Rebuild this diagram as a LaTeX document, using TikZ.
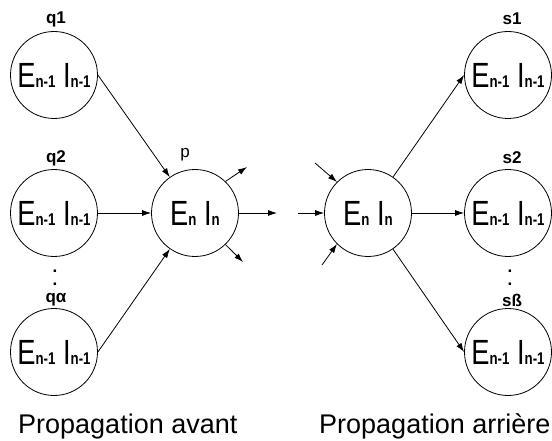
\documentclass[tikz,border=0pt]{standalone}
\usepackage{fontspec}
\usepackage{graphicx}
\setmainfont{Liberation Sans}
\usetikzlibrary{arrows.meta}
\newcommand{\EIsub}[1]{{\fontsize{17}{17}\selectfont\bfseries #1}}
\newcommand{\EItext}[1]{\scalebox{0.78}[1]{\fontsize{35}{35}\selectfont E\EIsub{#1} I\EIsub{#1}}}
\begin{document}
\begin{tikzpicture}[x=1pt,y=-1pt,
  neuron/.style={draw,circle,line width=0.8pt,minimum size=87pt,inner sep=0pt},
  lbl/.style={font=\fontsize{17}{17}\selectfont\bfseries,inner sep=0pt},
  vdots/.style={font=\fontsize{17}{13}\selectfont\bfseries,inner sep=0pt,align=center},
  conn/.style={line width=0.8pt,-{Latex[length=9pt,width=6pt]}},
  title/.style={font=\fontsize{27}{27}\selectfont,anchor=base west,inner sep=0pt}]
\useasboundingbox (0,0) rectangle (552,441);
% left side
\node[neuron] (q1) at (54,75) {\EItext{n-1}};
\node[neuron] (q2) at (54,213) {\EItext{n-1}};
\node[neuron] (qa) at (54,352) {\EItext{n-1}};
\node[lbl] (lq1) at (56,19) {q1};
\node[lbl] (lq2) at (56,158) {q2};
\node[lbl] (lqa) at (56,300) {qα};
\node[vdots] (dq) at (55,278) {.\\.};
\node[neuron] (p) at (195,213) {\EItext{n}};
\node[font=\fontsize{17}{17}\selectfont,inner sep=1pt] (lp) at (185,155) {p};
\draw[conn] (q1.east) -- (p);
\draw[conn] (q2.east) -- (p.west);
\draw[conn] (qa.east) -- (p);
\coordinate (po1) at (247,167);
\coordinate (po2) at (277,213);
\coordinate (po3) at (243,262);
\draw[conn] (p.46) -- (po1);
\draw[conn] (p.east) -- (po2);
\draw[conn] (p.-46) -- (po3);
% right side
\node[neuron] (r) at (368,213) {\EItext{n}};
\node[neuron] (s1) at (508,75) {\EItext{n-1}};
\node[neuron] (s2) at (508,213) {\EItext{n-1}};
\node[neuron] (sb) at (508,352) {\EItext{n-1}};
\node[lbl] (ls1) at (512,19) {s1};
\node[lbl] (ls2) at (512,158) {s2};
\node[lbl] (lsb) at (512,300) {sß};
\node[vdots] (ds) at (510,278) {.\\.};
\coordinate (ri1) at (315,163);
\coordinate (ri2) at (298,213);
\coordinate (ri3) at (322,265);
\draw[conn] (ri1) -- (r.135);
\draw[conn] (ri2) -- (r.west);
\draw[conn] (ri3) -- (r.225);
\draw[conn] (r) -- (s1.west);
\draw[conn] (r.east) -- (s2.west);
\draw[conn] (r) -- (sb.west);
% titles
\node[title] (t1) at (18,433) {Propagation avant};
\node[title] (t2) at (319,433) {Propagation arrière};
\end{tikzpicture}
\end{document}
